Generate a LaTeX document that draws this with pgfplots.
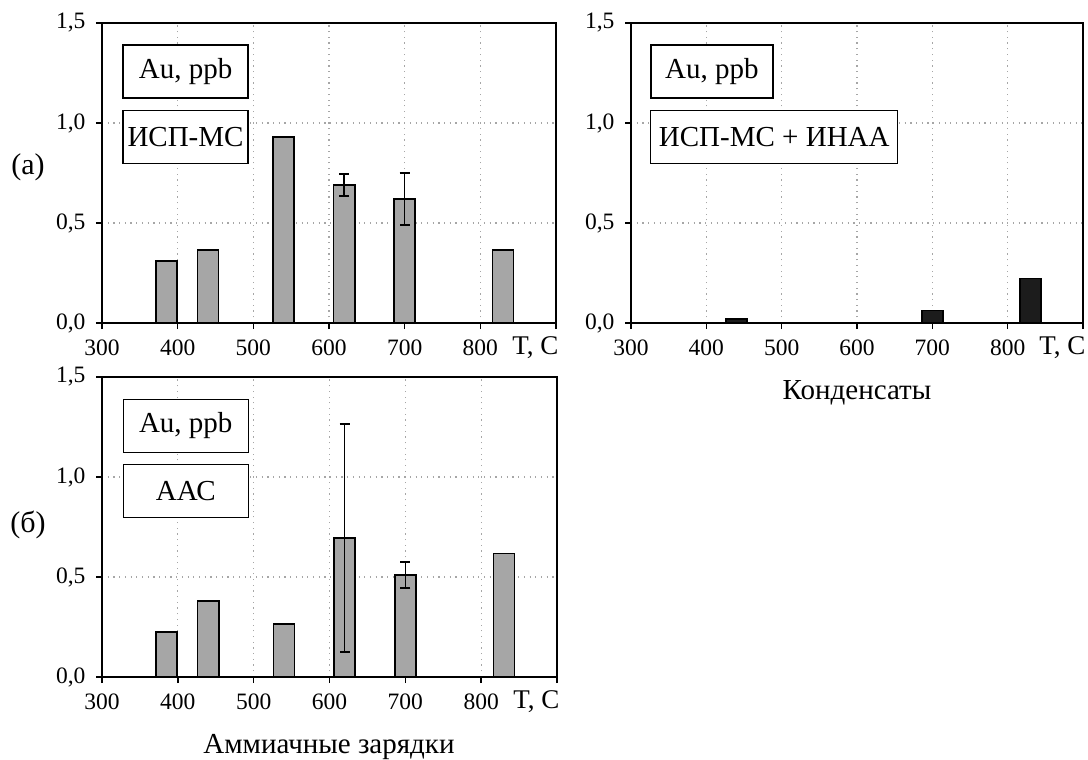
\documentclass[border=0pt]{standalone}
\usepackage{fontspec}
\setmainfont{Liberation Serif}
\usepackage{pgfplots}
\pgfplotsset{compat=1.18}
\definecolor{bargray}{RGB}{166,166,166}
\definecolor{bardark}{RGB}{28,28,28}
\tikzset{
  lbl/.style={draw=black, line width=1.3pt, fill=white, minimum height=53pt,
    font=\fontsize{29}{33}\selectfont, inner sep=0pt},
  tc/.style={anchor=east, font=\fontsize{27}{31}\selectfont, xshift=6pt, yshift=-25pt},
}
\pgfplotsset{
  panel/.style={
    scale only axis, anchor=north west, clip=false,
    height=300pt,
    xmin=300, xmax=900, ymin=0, ymax=1.5,
    xtick={300,400,...,800},
    extra x ticks={900}, extra x tick labels={}, extra x tick style={grid=none},
    ytick={0,0.5,1,1.5},
    tick align=outside, major tick length=6pt,
    tick pos=left,
    grid=major,
    major grid style={line width=1.2pt, dash pattern=on 1.2pt off 4.5pt, color=black!35},
    axis line style={line width=1.6pt},
    every tick/.style={black, line width=1.6pt},
    tick label style={font=\fontsize{23.5}{27}\selectfont},
    /pgf/number format/assume math mode=true,
    xticklabel style={yshift=-7pt},
    yticklabel style={xshift=-7pt, /pgf/number format/.cd, fixed, fixed zerofill, precision=1, use comma},
  },
  bars/.style={ybar, bar width=28, draw=black, line width=1.6pt},
  errs/.style={draw=none, mark=none, forget plot,
    error bars/.cd, y dir=both, y explicit,
    error bar style={line width=1.5pt, draw=black, solid},
    error mark options={rotate=90, mark size=5pt, line width=1.5pt, draw=black}},
}
\begin{document}
\begin{tikzpicture}
\path[use as bounding box] (0pt,0pt) rectangle (1088pt,-760pt);

% (a) top-left
\begin{axis}[panel, at={(102pt,-23pt)}, width=454pt]
\addplot[bars, fill=bargray] coordinates {(385,0.31) (440,0.365) (540,0.93) (620,0.69) (700,0.62) (830,0.365)};
\addplot[errs] coordinates {(620,0.69) +- (0,0.056) (700,0.62) +- (0,0.13)};
\node[lbl, minimum width=125pt] at (rel axis cs:0.184,0.838) {Au, ppb};
\node[lbl, minimum width=125pt] at (rel axis cs:0.184,0.62) {ИСП-МС};
\node[tc] at (rel axis cs:1,0) {T, C};
\end{axis}

% top-right
\begin{axis}[panel, at={(631pt,-23pt)}, width=452pt]
\addplot[bars, fill=bardark] coordinates {(440,0.02) (700,0.062) (830,0.222)};
\node[lbl, minimum width=122pt] at (rel axis cs:0.179,0.838) {Au, ppb};
\node[lbl, minimum width=247pt] at (rel axis cs:0.317,0.62) {ИСП-МС + ИНАА};
\node[tc] at (rel axis cs:1,0) {T, C};
\end{axis}

% (б) bottom-left
\begin{axis}[panel, at={(102pt,-377pt)}, width=455pt]
\addplot[bars, fill=bargray] coordinates {(385,0.225) (440,0.38) (540,0.265) (620,0.695) (700,0.51) (830,0.617)};
\addplot[errs] coordinates {(620,0.695) +- (0,0.57) (700,0.51) +- (0,0.066)};
\node[lbl, minimum width=125pt] at (rel axis cs:0.184,0.837) {Au, ppb};
\node[lbl, minimum width=125pt] at (rel axis cs:0.184,0.619) {ААС};
\node[tc] at (rel axis cs:1,0) {T, C};
\end{axis}

\node[font=\fontsize{30}{34}\selectfont] at (28pt,-167pt) {(a)};
\node[font=\fontsize{30}{34}\selectfont] at (28pt,-525pt) {(б)};
\node[font=\fontsize{29}{33}\selectfont] at (857pt,-393pt) {Конденсаты};
\node[font=\fontsize{29}{33}\selectfont] at (329pt,-747pt) {Аммиачные зарядки};
\end{tikzpicture}
\end{document}
